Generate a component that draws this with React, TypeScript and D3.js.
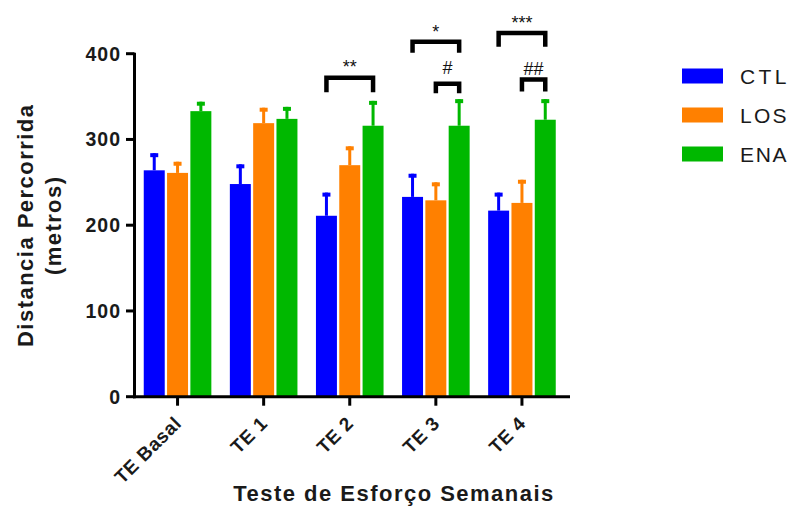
import React from "react";
import * as d3 from "d3";

// Weekly effort tests (distance run, metres): mean and SEM per group
const categories = ["TE Basal", "TE 1", "TE 2", "TE 3", "TE 4"];
const groups = ["CTL", "LOS", "ENA"];
const groupColors = ["#0000ff", "#ff8000", "#00b800"];

const ctlMean = [264, 248, 211, 233, 217];
const ctlSem = [20, 23, 27, 27, 21];
const losMean = [261, 319, 270, 229, 226];
const losSem = [13, 18, 22, 21, 27];
const enaMean = [333, 324, 316, 316, 323];
const enaSem = [11, 14, 29, 31, 24];

const yTicks = [0, 100, 200, 300, 400];

// Significance brackets: category, group span, bracket level, leg end, label level
const sigCategory = ["TE 2", "TE 3", "TE 3", "TE 4", "TE 4"];
const sigFrom = [0, 0, 1, 0, 1];
const sigTo = [2, 2, 2, 2, 2];
const sigLevel = [372, 414, 365, 424, 370];
const sigLegEnd = [355, 401, 354, 408, 356];
const sigText = ["**", "*", "#", "***", "##"];
const sigTextLevel = [377, 418, 376, 429, 375];

const means = [ctlMean, losMean, enaMean];
const sems = [ctlSem, losSem, enaSem];

const W = 793;
const H = 506;
const FONT = "'Liberation Sans', Arial, Helvetica, sans-serif";

export default function App() {
  const y = d3.scaleLinear().domain([0, 400]).range([396.7, 53.7]);
  const x0 = d3.scaleBand<string>().domain(categories).range([134.5, 565]);
  const x1 = d3
    .scaleBand<string>()
    .domain(groups)
    .range([-33.8, 33.8])
    .paddingInner(0.1);
  const bw = x1.bandwidth();
  const cx = (cat: string) => (x0(cat) as number) + x0.bandwidth() / 2;
  const gx = (cat: string, gi: number) =>
    cx(cat) + (x1(groups[gi]) as number) + bw / 2;

  const axisY0 = y(0);
  const axisX = 134.5;

  return (
    <svg
      width={W}
      height={H}
      style={{ position: "absolute", left: 0, top: 0, background: "#fff" }}
      fontFamily={FONT}
    >
      <rect width={W} height={H} fill="#fff" />

      {/* bars */}
      {groups.map((g, gi) =>
        categories.map((c, ci) => {
          const m = means[gi][ci];
          const x = cx(c) + (x1(g) as number);
          return (
            <rect
              key={g + c}
              x={x}
              y={y(m)}
              width={bw}
              height={axisY0 - y(m)}
              fill={groupColors[gi]}
            />
          );
        })
      )}

      {/* upper error bars */}
      {groups.map((g, gi) =>
        categories.map((c, ci) => {
          const m = means[gi][ci];
          const top = m + sems[gi][ci];
          const xc = gx(c, gi);
          return (
            <g key={"e" + g + c} fill={groupColors[gi]}>
              <rect x={xc - 1.5} y={y(top)} width={3} height={y(m) - y(top)} />
              <rect x={xc - 4} y={y(top)} width={8} height={4} />
            </g>
          );
        })
      )}

      {/* y axis */}
      <line
        x1={axisX}
        x2={axisX}
        y1={axisY0 + 1.5}
        y2={y(400) - 1}
        stroke="#000"
        strokeWidth={3}
      />
      {yTicks.map((t) => (
        <g key={"yt" + t}>
          <line
            x1={126}
            x2={axisX}
            y1={y(t)}
            y2={y(t)}
            stroke="#000"
            strokeWidth={3}
          />
          <text
            x={121}
            y={y(t)}
            dy="0.36em"
            textAnchor="end"
            fontSize={19.5}
            fontWeight="bold"
            letterSpacing={1}
            fill="#1a1a1a"
          >
            {t}
          </text>
        </g>
      ))}

      {/* x axis */}
      <line
        x1={axisX - 1.5}
        x2={570}
        y1={axisY0}
        y2={axisY0}
        stroke="#000"
        strokeWidth={3}
      />
      {categories.map((c) => (
        <g key={"xt" + c}>
          <line
            x1={cx(c)}
            x2={cx(c)}
            y1={axisY0}
            y2={axisY0 + 9}
            stroke="#000"
            strokeWidth={3}
          />
          <text
            transform={`translate(${cx(c) + 5},${axisY0 + 28}) rotate(-45)`}
            textAnchor="end"
            fontSize={19}
            fontWeight="bold"
            letterSpacing={0.6}
            fill="#1a1a1a"
          >
            {c}
          </text>
        </g>
      ))}

      {/* significance brackets */}
      {sigText.map((s, i) => {
        const xa = gx(sigCategory[i], sigFrom[i]);
        const xb = gx(sigCategory[i], sigTo[i]);
        const yl = y(sigLevel[i]);
        const ye = y(sigLegEnd[i]);
        return (
          <g key={"sig" + i}>
            <path
              d={`M${xa},${ye}V${yl}H${xb}V${ye}`}
              fill="none"
              stroke="#000"
              strokeWidth={4.5}
              strokeLinejoin="miter"
            />
            <text
              x={(xa + xb) / 2}
              y={y(sigTextLevel[i])}
              textAnchor="middle"
              fontSize={18}
              fill="#111"
            >
              {s}
            </text>
          </g>
        );
      })}

      {/* axis titles */}
      <text
        x={393.3}
        y={500.5}
        textAnchor="middle"
        fontSize={22}
        fontWeight="bold"
        textLength={320}
        lengthAdjust="spacing"
        fill="#1a1a1a"
      >
        Teste de Esforço Semanais
      </text>
      <text
        transform="translate(33,226) rotate(-90)"
        textAnchor="middle"
        fontSize={22}
        fontWeight="bold"
        textLength={242}
        lengthAdjust="spacing"
        fill="#1a1a1a"
      >
        Distancia Percorrida
      </text>
      <text
        transform="translate(61,226) rotate(-90)"
        textAnchor="middle"
        fontSize={22}
        fontWeight="bold"
        textLength={98}
        lengthAdjust="spacing"
        fill="#1a1a1a"
      >
        (metros)
      </text>

      {/* legend */}
      {groups.map((g, gi) => (
        <g key={"lg" + g} transform={`translate(682,${76 + gi * 39})`}>
          <rect x={0} y={-7.5} width={41} height={15} fill={groupColors[gi]} />
          <text
            x={58}
            y={0}
            dy="0.36em"
            fontSize={21}
            textLength={46.5}
            lengthAdjust="spacing"
            fill="#1a1a1a"
          >
            {g}
          </text>
        </g>
      ))}
    </svg>
  );
}
